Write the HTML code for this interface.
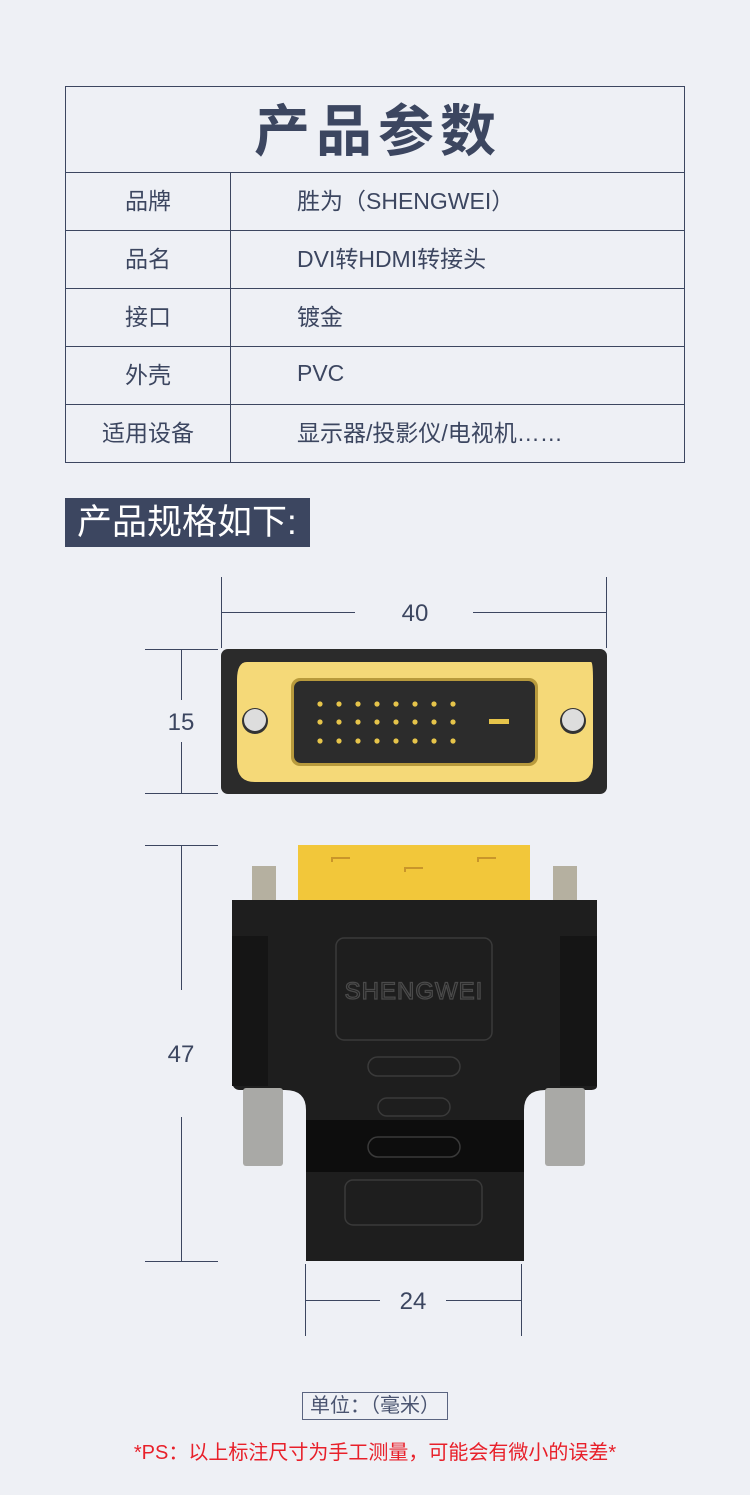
<!DOCTYPE html>
<html><head><meta charset="utf-8"><style>
*{margin:0;padding:0;box-sizing:border-box}
body{width:750px;height:1495px;background:#eef0f5;position:relative;overflow:hidden;font-family:"Liberation Sans","Noto Sans CJK SC",sans-serif;color:#3c4660}
.a{position:absolute}
table{position:absolute;left:65px;top:86px;width:620px;border-collapse:collapse}
td{border:1.5px solid #3c4660;font-size:23px;height:58px;padding-bottom:5px}
td.l{width:165px;text-align:center}
td.v{padding-left:66px}
</style></head><body>
<table>
<tr><td colspan="2" style="height:86px;text-align:center;font-size:56px;font-weight:bold;letter-spacing:6px;padding-bottom:4px;padding-left:6px">产品参数</td></tr>
<tr><td class="l">品牌</td><td class="v">胜为（SHENGWEI）</td></tr>
<tr><td class="l">品名</td><td class="v">DVI转HDMI转接头</td></tr>
<tr><td class="l">接口</td><td class="v">镀金</td></tr>
<tr><td class="l">外壳</td><td class="v">PVC</td></tr>
<tr><td class="l">适用设备</td><td class="v">显示器/投影仪/电视机……</td></tr>
</table>
<div class="a" style="left:65px;top:498px;width:245px;height:49px;background:#3c4660;color:#fff;font-size:35px;line-height:49px;padding-left:12px;white-space:nowrap">产品规格如下:</div>

<svg class="a" style="left:0;top:0" width="750" height="1495">
<g stroke="#3c4660" stroke-width="1" fill="none">
<path d="M221.5 577V648M606.5 577V648M221 612.5H355M473 612.5H606"/>
<path d="M145 649.5H218M145 793.5H218M181.5 649V700M181.5 742V793"/>
<path d="M145 845.5H218M145 1261.5H218M181.5 845V990M181.5 1117V1261"/>
<path d="M305.5 1264V1336M521.5 1264V1336M305 1300.5H380M446 1300.5H521"/>
</g>
<g fill="#3c4660" font-size="24" text-anchor="middle" font-family="Liberation Sans, sans-serif">
<text x="415" y="621">40</text><text x="181" y="730">15</text><text x="181" y="1062">47</text><text x="413" y="1309">24</text>
</g>
<!-- top connector -->
<rect x="221" y="649" width="386" height="145" rx="7" fill="#2b2b2b"/>
<path d="M247 662H591Q593 662 593 680V763Q593 782 575 782H255Q237 782 237 763V680Q237 662 247 662Z" fill="#f5d978"/>
<rect x="291" y="678" width="247" height="88" rx="9" fill="#b89a3c"/>
<rect x="294" y="681" width="241" height="82" rx="7" fill="#2c2c2c"/>
<g fill="#e6c44a">
<circle cx="320" cy="704" r="2.6"/><circle cx="339" cy="704" r="2.6"/><circle cx="358" cy="704" r="2.6"/><circle cx="377" cy="704" r="2.6"/><circle cx="396" cy="704" r="2.6"/><circle cx="415" cy="704" r="2.6"/><circle cx="434" cy="704" r="2.6"/><circle cx="453" cy="704" r="2.6"/>
<circle cx="320" cy="722" r="2.6"/><circle cx="339" cy="722" r="2.6"/><circle cx="358" cy="722" r="2.6"/><circle cx="377" cy="722" r="2.6"/><circle cx="396" cy="722" r="2.6"/><circle cx="415" cy="722" r="2.6"/><circle cx="434" cy="722" r="2.6"/><circle cx="453" cy="722" r="2.6"/>
<circle cx="320" cy="741" r="2.6"/><circle cx="339" cy="741" r="2.6"/><circle cx="358" cy="741" r="2.6"/><circle cx="377" cy="741" r="2.6"/><circle cx="396" cy="741" r="2.6"/><circle cx="415" cy="741" r="2.6"/><circle cx="434" cy="741" r="2.6"/><circle cx="453" cy="741" r="2.6"/>
<rect x="489" y="719" width="20" height="5"/>
</g>
<circle cx="255" cy="721" r="13" fill="#333"/><circle cx="255" cy="720" r="11" fill="#ddd"/>
<circle cx="573" cy="721" r="13" fill="#333"/><circle cx="573" cy="720" r="11" fill="#ddd"/>
<!-- adapter -->
<rect x="298" y="845" width="232" height="60" fill="#f2c73a"/>
<g stroke="#c9962a" stroke-width="2" fill="none"><path d="M332 862V858H350M405 872V868H423M478 862V858H496"/></g>
<rect x="252" y="866" width="24" height="36" fill="#b5b0a0"/><rect x="553" y="866" width="24" height="36" fill="#b5b0a0"/>
<path d="M232 900H597V1086Q597 1090 590 1090H545Q524 1090 524 1110V1261H306V1110Q306 1090 285 1090H240Q232 1090 232 1080Z" fill="#1e1e1e"/>
<rect x="232" y="936" width="36" height="150" fill="#151515"/><rect x="560" y="936" width="37" height="150" fill="#151515"/>
<rect x="306" y="1120" width="218" height="52" fill="#0d0d0d"/>
<g stroke="#3a3a3a" stroke-width="1.5" fill="none">
<rect x="336" y="938" width="156" height="102" rx="8"/>
<rect x="368" y="1057" width="92" height="19" rx="9.5"/>
<rect x="378" y="1098" width="72" height="18" rx="9"/>
<rect x="368" y="1137" width="92" height="20" rx="10"/>
<rect x="345" y="1180" width="137" height="45" rx="8"/>
</g>
<text x="414" y="999" text-anchor="middle" font-size="24" fill="none" stroke="#4a4a4a" stroke-width="1.3" font-family="Liberation Sans, sans-serif" letter-spacing="1">SHENGWEI</text>
<rect x="243" y="1088" width="40" height="78" rx="3" fill="#a9a9a6"/><rect x="545" y="1088" width="40" height="78" rx="3" fill="#a9a9a6"/>
</svg>

<div class="a" style="left:302px;top:1392px;width:146px;height:28px;border:1.3px solid #5a6480;font-size:20px;line-height:26px;text-align:center;color:#4a5470">单位：（毫米）</div>
<div class="a" style="left:0;top:1436px;width:750px;text-align:center;font-size:20px;color:#e8202a">*PS：以上标注尺寸为手工测量，可能会有微小的误差*</div>
</body></html>
